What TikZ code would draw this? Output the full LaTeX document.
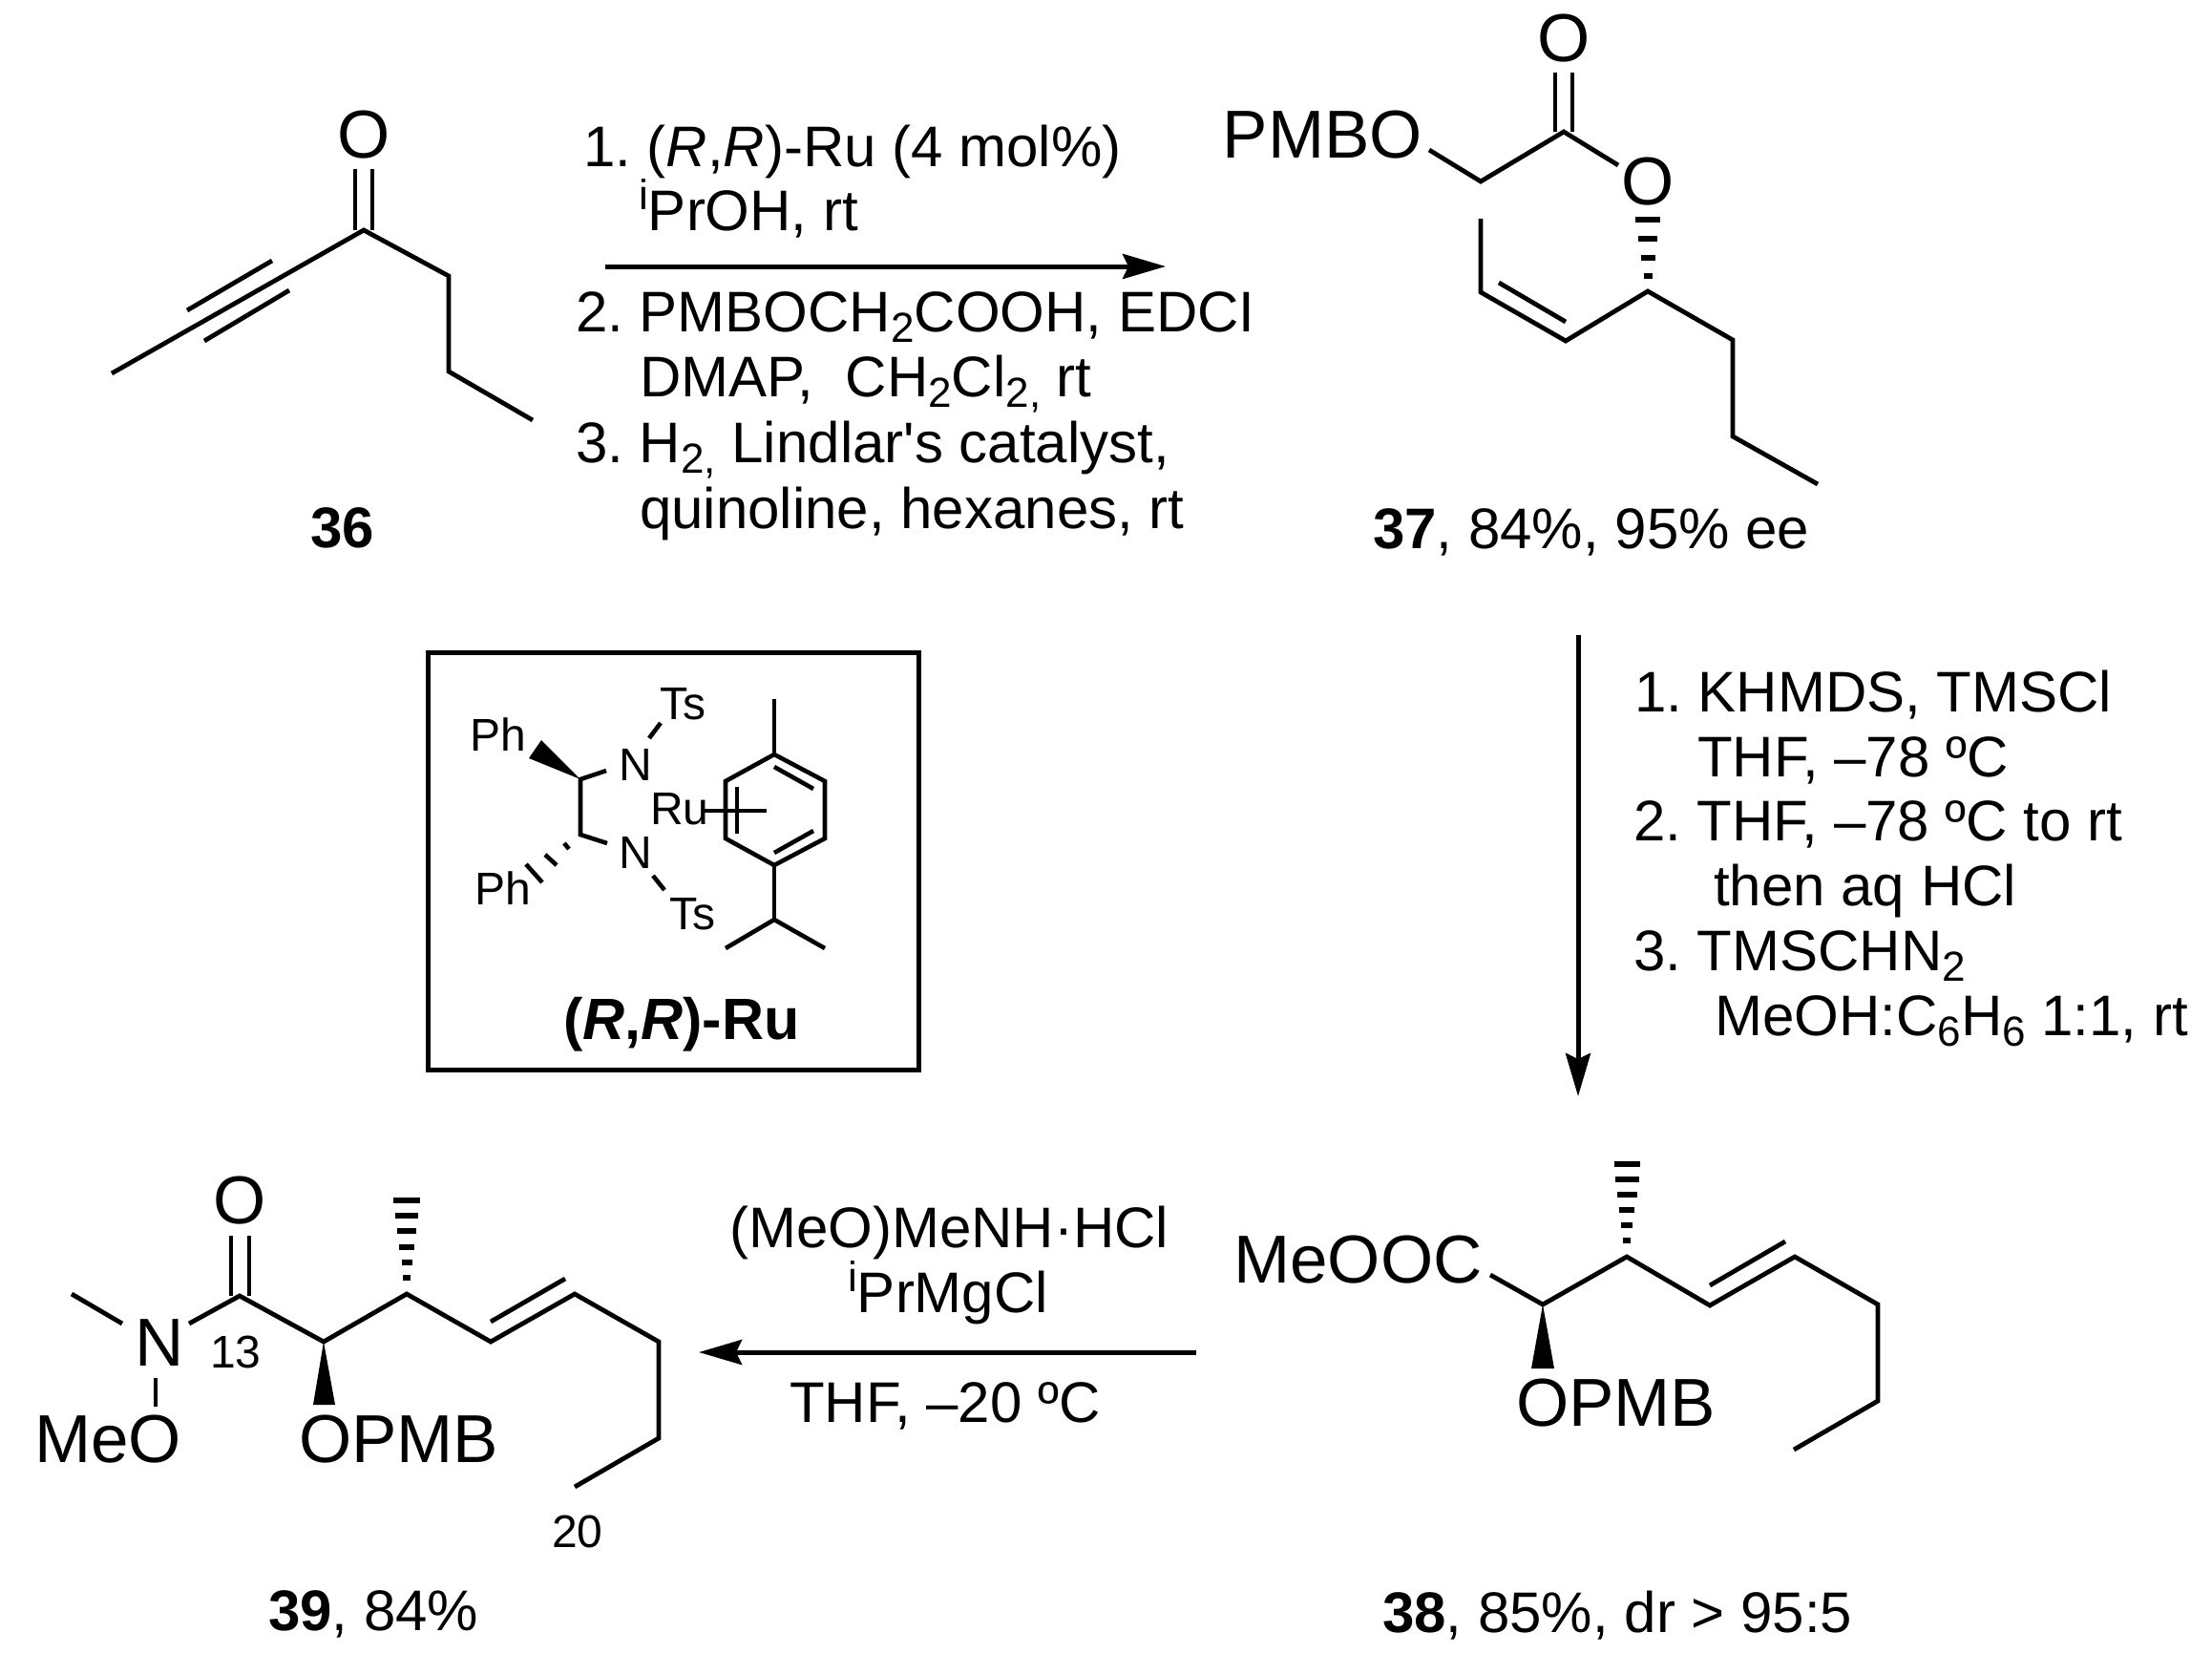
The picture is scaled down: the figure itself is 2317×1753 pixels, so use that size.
\documentclass[tikz,border=0pt]{standalone}
\usepackage{fontspec}
\setmainfont{Liberation Sans}
\newfontfamily\straightfont{Liberation Sans}
\usepackage{tikz}
\usetikzlibrary{arrows.meta}
\newcommand{\chemsub}[1]{\raisebox{-11pt}{\fontsize{44}{44}\selectfont #1}}
\newcommand{\chemsup}[1]{\raisebox{22pt}{\fontsize{44}{44}\selectfont #1}}
\tikzstyle{bond}     = [line width=4.8pt]
\tikzstyle{thinbond} = [line width=4.6pt]
\tikzstyle{hashbar}  = [line width=5.5pt]
\tikzstyle{rxnarrow} = [line width=5pt,-{Stealth[length=45pt,width=26pt,inset=6pt]}]
\tikzstyle{txt}      = [inner sep=0pt,anchor=base west,font=\fontsize{60}{60}\selectfont]
\tikzstyle{atom}     = [inner sep=0pt,anchor=base west,font=\fontsize{71}{71}\selectfont]
\tikzstyle{minor}    = [inner sep=0pt,anchor=base west,font=\fontsize{48}{48}\selectfont]
\begin{document}
\frenchspacing
\begin{tikzpicture}[x=1pt,y=-1pt]
        \useasboundingbox (0,0) rectangle (2317,1753);

        % 36
        \coordinate (a1) at (117,391);
        \coordinate (a2) at (381,241);
        \coordinate (a3) at (470,289);
        \coordinate (a4) at (470,389);
        \coordinate (a5) at (558,440);
        \node[atom, anchor=base] (aO) at (381,165) {O};
        \draw[bond] (a1) -- (a2) -- (a3) -- (a4) -- (a5);
        \coordinate (t1) at (285,273);
        \coordinate (t2) at (196,325);
        \coordinate (t3) at (303,304);
        \coordinate (t4) at (214,357);
        \draw[bond] (t1) -- (t2);
        \draw[bond] (t3) -- (t4);
        \coordinate (k1) at (372,177);
        \coordinate (k2) at (372,241);
        \coordinate (k3) at (390,177);
        \coordinate (k4) at (390,241);
        \draw[bond] (k1) -- (k2);
        \draw[bond] (k3) -- (k4);
        \node[txt, font=\fontsize{60}{60}\selectfont\bfseries, anchor=base] (lab36) at (359,573) {36};

        % first arrow
        \coordinate (r1from) at (634,279);
        \coordinate (r1to) at (1221,279);
        \draw[rxnarrow] (r1from) -- (r1to);
        \node[txt] (r1a) at (611,174) {1. (\textit{R},\textit{R})-Ru (4 mol\%)};
        \node[txt] (r1b) at (669,241) {\chemsup{i}PrOH, rt};
        \node[txt] (r1c) at (603,347) {2. PMBOCH\chemsub{2}COOH, EDCI};
        \node[txt] (r1d) at (670,415) {DMAP,\ \ CH\chemsub{2}Cl\chemsub{2,} rt};
        \node[txt] (r1e) at (603,484) {3. H\chemsub{2,} Lindlar{\straightfont'}s catalyst,};
        \node[txt] (r1f) at (670,553) {quinoline, hexanes, rt};

        % 37
        \node[atom, anchor=base] (bO1) at (1638,65) {O};
        \node[atom, anchor=base east] (bPMBO) at (1490,165) {PMBO};
        \node[atom, anchor=base] (bO2) at (1726,214) {O};
        \coordinate (b1) at (1497,157);
        \coordinate (b2) at (1551,190);
        \coordinate (b3) at (1638,138);
        \coordinate (b4) at (1695,173);
        \draw[bond] (b1) -- (b2) -- (b3) -- (b4);
        \coordinate (b5) at (1629,76);
        \coordinate (b6) at (1629,138);
        \coordinate (b7) at (1647,76);
        \coordinate (b8) at (1647,138);
        \draw[bond] (b5) -- (b6);
        \draw[bond] (b7) -- (b8);
        \coordinate (c1) at (1551,229);
        \coordinate (c2) at (1551,306);
        \coordinate (c3) at (1640,357);
        \coordinate (c4) at (1726,305);
        \coordinate (c5) at (1815,356);
        \coordinate (c6) at (1815,457);
        \coordinate (c7) at (1904,507);
        \draw[bond] (c1) -- (c2) -- (c3) -- (c4) -- (c5) -- (c6) -- (c7);
        \coordinate (c8) at (1570,296);
        \coordinate (c9) at (1640,337);
        \draw[bond] (c8) -- (c9);
        \foreach \yy/\ww in {230/26,250/20,270/15,289/9}
            \draw[hashbar] (1726-\ww/2,\yy) -- (1726+\ww/2,\yy);
        \node[txt] (lab37) at (1438,574) {\textbf{37}, 84\%, 95\% ee};

        % catalyst box
        \node[draw, line width=5pt, outer sep=0pt, minimum width=514pt, minimum height=437pt, inner sep=0pt, anchor=north west] (box) at (448,683) {};
        \node[minor] (cTs1) at (691,753) {Ts};
        \node[minor] (cPh1) at (492,786) {Ph};
        \node[minor] (cN1) at (648,817) {N};
        \node[minor] (cRu) at (681,863) {Ru};
        \node[minor] (cN2) at (648,909) {N};
        \node[minor] (cPh2) at (497,947) {Ph};
        \node[minor] (cTs2) at (701,973) {Ts};
        \coordinate (d1) at (608,816);
        \coordinate (d2) at (608,874);
        \coordinate (d3) at (635,807);
        \coordinate (d4) at (636,883);
        \coordinate (d5) at (567,775);
        \coordinate (d6) at (554,794);
        \fill (d1) -- (d5) -- (d6) -- cycle;
        \draw[thinbond] (d3) -- (d1) -- (d2) -- (d4);
        \coordinate (d7) at (680,773);
        \coordinate (d8) at (692,757);
        \coordinate (d9) at (684,917);
        \coordinate (d10) at (696,932);
        \draw[thinbond] (d7) -- (d8);
        \draw[thinbond] (d9) -- (d10);
        \draw[thinbond] (591,883) -- (596,889);
        \draw[thinbond] (571,895) -- (583,906);
        \draw[thinbond] (551,905) -- (568,924);
        \coordinate (e1) at (811,790);
        \coordinate (e2) at (864,818);
        \coordinate (e3) at (864,878);
        \coordinate (e4) at (811,906);
        \coordinate (e5) at (760,878);
        \coordinate (e6) at (760,818);
        \draw[thinbond] (e1) -- (e2) -- (e3) -- (e4) -- (e5) -- (e6) -- cycle;
        \coordinate (e7) at (811,803);
        \coordinate (e8) at (852,826);
        \coordinate (e9) at (811,893);
        \coordinate (e10) at (852,870);
        \coordinate (e11) at (772,824);
        \coordinate (e12) at (772,873);
        \draw[thinbond] (e7) -- (e8);
        \draw[thinbond] (e9) -- (e10);
        \draw[thinbond] (e11) -- (e12);
        \coordinate (e13) at (738,849);
        \coordinate (e14) at (803,849);
        \draw[thinbond] (e13) -- (e14);
        \coordinate (e15) at (811,732);
        \coordinate (e16) at (811,963);
        \coordinate (e17) at (760,993);
        \coordinate (e18) at (864,993);
        \draw[thinbond] (e15) -- (e1);
        \draw[thinbond] (e4) -- (e16);
        \draw[thinbond] (e17) -- (e16) -- (e18);
        \node[txt, font=\fontsize{61}{61}\selectfont] (labRu) at (590,1088) {\textbf{(\textit{R},\textit{R})-Ru}};

        % second arrow
        \coordinate (r2from) at (1653,665);
        \coordinate (r2to) at (1653,1148);
        \draw[rxnarrow] (r2from) -- (r2to);
        \node[txt] (r2a) at (1712,745) {1. KHMDS, TMSCl};
        \node[txt] (r2b) at (1778,813) {THF, --78 ºC};
        \node[txt] (r2c) at (1711,880) {2. THF, --78 ºC to rt};
        \node[txt] (r2d) at (1795,948) {then aq HCl};
        \node[txt] (r2e) at (1711,1016) {3. TMSCHN\chemsub{2}};
        \node[txt] (r2f) at (1796,1084) {MeOH:C\chemsub{6}H\chemsub{6} 1:1, rt};

        % 38
        \node[atom] (fMeOOC) at (1292,1343) {MeOOC};
        \node[atom] (fOPMB) at (1588,1493) {OPMB};
        \coordinate (f1) at (1561,1335);
        \coordinate (f2) at (1616,1366);
        \coordinate (f3) at (1704,1316);
        \coordinate (f4) at (1791,1367);
        \coordinate (f5) at (1880,1316);
        \coordinate (f6) at (1967,1366);
        \coordinate (f7) at (1967,1467);
        \coordinate (f8) at (1879,1518);
        \draw[bond] (f1) -- (f2) -- (f3) -- (f4) -- (f5) -- (f6) -- (f7) -- (f8);
        \coordinate (f9) at (1791,1346);
        \coordinate (f10) at (1870,1300);
        \draw[bond] (f9) -- (f10);
        \coordinate (f11) at (1604,1433);
        \coordinate (f12) at (1628,1433);
        \fill (f2) -- (f11) -- (f12) -- cycle;
        \foreach \yy/\ww in {1219/27,1235/25,1251/21,1267/16,1283/12,1299/8}
            \draw[hashbar] (1704-\ww/2,\yy) -- (1704+\ww/2,\yy);
        \node[txt] (lab38) at (1448,1709) {\textbf{38}, 85\%, dr > 95:5};

        % third arrow
        \coordinate (r3from) at (1253,1416);
        \coordinate (r3to) at (732,1416);
        \draw[rxnarrow] (r3from) -- (r3to);
        \node[txt] (r3a) at (764,1306) {(MeO)MeNH·HCl};
        \node[txt] (r3b) at (888,1374) {\chemsup{i}PrMgCl};
        \node[txt] (r3c) at (827,1489) {THF, --20 ºC};

        % 39
        \node[atom, anchor=base] (gO) at (251,1281) {O};
        \node[atom] (gN) at (141,1430) {N};
        \node[atom] (gMeO) at (36,1531) {MeO};
        \node[atom] (gOPMB) at (313,1531) {OPMB};
        \node[minor] (g13) at (220,1432) {13};
        \node[minor] (g20) at (578,1620) {20};
        \coordinate (g1) at (198,1386);
        \coordinate (g2) at (251,1357);
        \coordinate (g3) at (339,1405);
        \coordinate (g4) at (426,1355);
        \coordinate (g5) at (514,1405);
        \coordinate (g6) at (602,1355);
        \coordinate (g7) at (690,1405);
        \coordinate (g8) at (690,1506);
        \coordinate (g9) at (602,1557);
        \draw[bond] (g1) -- (g2) -- (g3) -- (g4) -- (g5) -- (g6) -- (g7) -- (g8) -- (g9);
        \coordinate (g10) at (514,1384);
        \coordinate (g11) at (592,1339);
        \draw[bond] (g10) -- (g11);
        \coordinate (g12) at (242,1294);
        \coordinate (g13b) at (242,1357);
        \coordinate (g14) at (261,1294);
        \coordinate (g15) at (261,1357);
        \draw[bond] (g12) -- (g13b);
        \draw[bond] (g14) -- (g15);
        \coordinate (g16) at (128,1386);
        \coordinate (g17) at (75,1355);
        \draw[bond] (g16) -- (g17);
        \coordinate (g18) at (163,1443);
        \coordinate (g19) at (163,1473);
        \draw[bond] (g18) -- (g19);
        \coordinate (g20b) at (328,1471);
        \coordinate (g21) at (351,1471);
        \fill (g3) -- (g20b) -- (g21) -- cycle;
        \foreach \yy/\ww in {1257/28,1273/24,1289/20,1306/16,1322/11,1338/8}
            \draw[hashbar] (426-\ww/2,\yy) -- (426+\ww/2,\yy);
        \node[txt] (lab39) at (281,1707) {\textbf{39}, 84\%};
\end{tikzpicture}
\end{document}
